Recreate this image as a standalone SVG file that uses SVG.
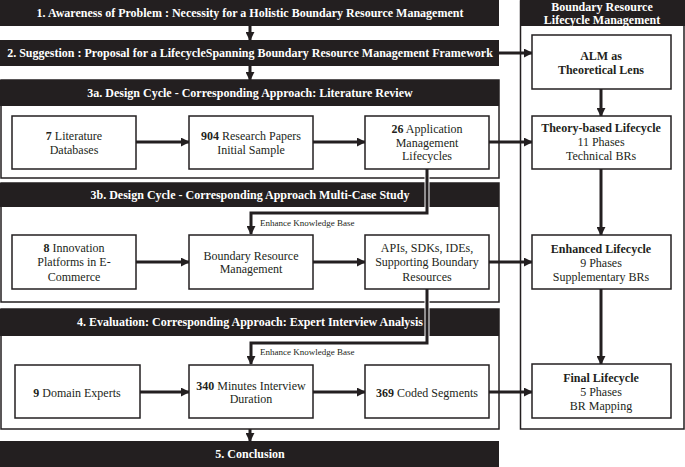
<svg xmlns="http://www.w3.org/2000/svg" width="685" height="467" viewBox="0 0 685 467">
<style>
.bar{fill:#231f20}
.panel{fill:none;stroke:#231f20;stroke-width:1.5}
.box{fill:#fff;stroke:#231f20;stroke-width:1.5}
.bt{font-family:"Liberation Serif","Times New Roman",serif;font-weight:bold;font-size:12px;fill:#fff;text-anchor:middle}
.t{font-family:"Liberation Serif","Times New Roman",serif;font-size:12px;fill:#231f20;text-anchor:middle}
.b{font-weight:bold}
.lbl{font-family:"Liberation Serif","Times New Roman",serif;font-size:9px;fill:#231f20}
.c{fill:none;stroke:#231f20;stroke-width:3}
.halo{fill:none;stroke:#fff;stroke-width:5}
</style>
<defs>
<marker id="ah" viewBox="0 0 10 10" refX="9" refY="5" markerWidth="3" markerHeight="3" orient="auto" markerUnits="strokeWidth">
<path d="M0,0 L10,5 L0,10 z" fill="#231f20"/>
</marker>
</defs>
<rect width="685" height="467" fill="#fff"/>

<g id="panels">
<rect class="panel" x="1" y="80" width="498" height="98"/>
<rect class="panel" x="1" y="183" width="498" height="119"/>
<rect class="panel" x="1" y="309" width="498" height="120"/>
<rect class="panel" x="520.5" y="1" width="163.5" height="428"/>
</g>

<g id="bar1"><rect class="bar" x="0" y="0" width="499" height="26"/><text class="bt" x="250" y="17">1. Awareness of Problem : Necessity for a Holistic Boundary Resource Management</text></g>
<g id="bar2"><rect class="bar" x="0" y="40" width="499" height="26"/><text class="bt" x="250" y="57">2. Suggestion : Proposal for a LifecycleSpanning Boundary Resource Management Framework</text></g>
<g id="bar3a"><rect class="bar" x="0" y="80" width="499" height="26"/><text class="bt" x="250" y="97">3a. Design Cycle - Corresponding Approach: Literature Review</text></g>
<g id="bar3b"><rect class="bar" x="0" y="183" width="499" height="24"/><text class="bt" x="250" y="199">3b. Design Cycle - Corresponding Approach Multi-Case Study</text></g>
<g id="bar4"><rect class="bar" x="0" y="309" width="499" height="27"/><text class="bt" x="250" y="326">4. Evaluation: Corresponding Approach: Expert Interview Analysis</text></g>
<g id="bar5"><rect class="bar" x="0" y="441" width="499" height="26"/><text class="bt" x="250" y="458">5. Conclusion</text></g>
<g id="brlm-header"><rect class="bar" x="520" y="0" width="165" height="26"/><text class="bt" x="602" y="11">Boundary Resource</text><text class="bt" x="602" y="24">Lifecycle Management</text></g>

<g id="connectors">
<path class="halo" d="M427 169 V213 H251 V228"/>
<path class="c" d="M427 169 V213 H251 V234" marker-end="url(#ah)"/>
<path class="halo" d="M427 289 V343 H251 V358"/>
<path class="c" d="M427 289 V343 H251 V364" marker-end="url(#ah)"/>
<path class="c" d="M250 26 V40" marker-end="url(#ah)"/>
<path class="c" d="M250 66 V80" marker-end="url(#ah)"/>
<path class="c" d="M499 53 H532" marker-end="url(#ah)"/>
<path class="c" d="M601 89 V116" marker-end="url(#ah)"/>
<path class="c" d="M601 169 V235" marker-end="url(#ah)"/>
<path class="c" d="M601 289 V364" marker-end="url(#ah)"/>
<path class="c" d="M136 142 H189" marker-end="url(#ah)"/>
<path class="c" d="M313 142 H365" marker-end="url(#ah)"/>
<path class="c" d="M489 142 H532" marker-end="url(#ah)"/>
<path class="c" d="M136 262 H189" marker-end="url(#ah)"/>
<path class="c" d="M313 262 H365" marker-end="url(#ah)"/>
<path class="c" d="M489 262 H532" marker-end="url(#ah)"/>
<path class="c" d="M140 392 H189" marker-end="url(#ah)"/>
<path class="c" d="M313 392 H365" marker-end="url(#ah)"/>
<path class="c" d="M489 392 H532" marker-end="url(#ah)"/>
<path class="c" d="M250 429 V441" marker-end="url(#ah)"/>
<text class="lbl" x="260" y="226">Enhance Knowledge Base</text>
<text class="lbl" x="260" y="355">Enhance Knowledge Base</text>
</g>

<g id="n-lit-db"><rect class="box" x="12" y="116" width="124" height="53"/><text class="t" x="74" y="140"><tspan class="b">7</tspan> Literature</text><text class="t" x="74" y="154">Databases</text></g>
<g id="n-papers"><rect class="box" x="189" y="116" width="124" height="53"/><text class="t" x="251" y="140"><tspan class="b">904</tspan> Research Papers</text><text class="t" x="251" y="154">Initial Sample</text></g>
<g id="n-alm-lc"><rect class="box" x="365" y="116" width="124" height="53"/><text class="t" x="427" y="133"><tspan class="b">26</tspan> Application</text><text class="t" x="427" y="147">Management</text><text class="t" x="427" y="160">Lifecycles</text></g>

<g id="n-platforms"><rect class="box" x="12" y="235" width="124" height="54"/><text class="t" x="74" y="252"><tspan class="b">8</tspan> Innovation</text><text class="t" x="74" y="266">Platforms in E-</text><text class="t" x="74" y="281">Commerce</text></g>
<g id="n-brm"><rect class="box" x="189" y="235" width="124" height="54"/><text class="t" x="251" y="260">Boundary Resource</text><text class="t" x="251" y="273">Management</text></g>
<g id="n-apis"><rect class="box" x="365" y="235" width="124" height="54"/><text class="t" x="427" y="252">APIs, SDKs, IDEs,</text><text class="t" x="427" y="266">Supporting Boundary</text><text class="t" x="427" y="281">Resources</text></g>

<g id="n-experts"><rect class="box" x="15" y="365" width="125" height="53"/><text class="t" x="77" y="397"><tspan class="b">9</tspan> Domain Experts</text></g>
<g id="n-minutes"><rect class="box" x="189" y="365" width="124" height="53"/><text class="t" x="251" y="390"><tspan class="b">340</tspan> Minutes Interview</text><text class="t" x="251" y="403">Duration</text></g>
<g id="n-segments"><rect class="box" x="365" y="365" width="124" height="53"/><text class="t" x="427" y="397"><tspan class="b">369</tspan> Coded Segments</text></g>

<g id="n-alm"><rect class="box" x="532" y="35" width="139" height="54"/><text class="t b" x="601" y="60">ALM as</text><text class="t b" x="601" y="74">Theoretical Lens</text></g>
<g id="n-theory"><rect class="box" x="532" y="116" width="139" height="53"/><text class="t" x="601" y="132" font-weight="bold">Theory-based Lifecycle</text><text class="t" x="601" y="146">11 Phases</text><text class="t" x="601" y="160">Technical BRs</text></g>
<g id="n-enhanced"><rect class="box" x="532" y="235" width="139" height="54"/><text class="t" x="601" y="253" font-weight="bold">Enhanced Lifecycle</text><text class="t" x="601" y="267">9 Phases</text><text class="t" x="601" y="281">Supplementary BRs</text></g>
<g id="n-final"><rect class="box" x="532" y="364" width="139" height="54"/><text class="t" x="601" y="382" font-weight="bold">Final Lifecycle</text><text class="t" x="601" y="396">5 Phases</text><text class="t" x="601" y="410">BR Mapping</text></g>
</svg>
